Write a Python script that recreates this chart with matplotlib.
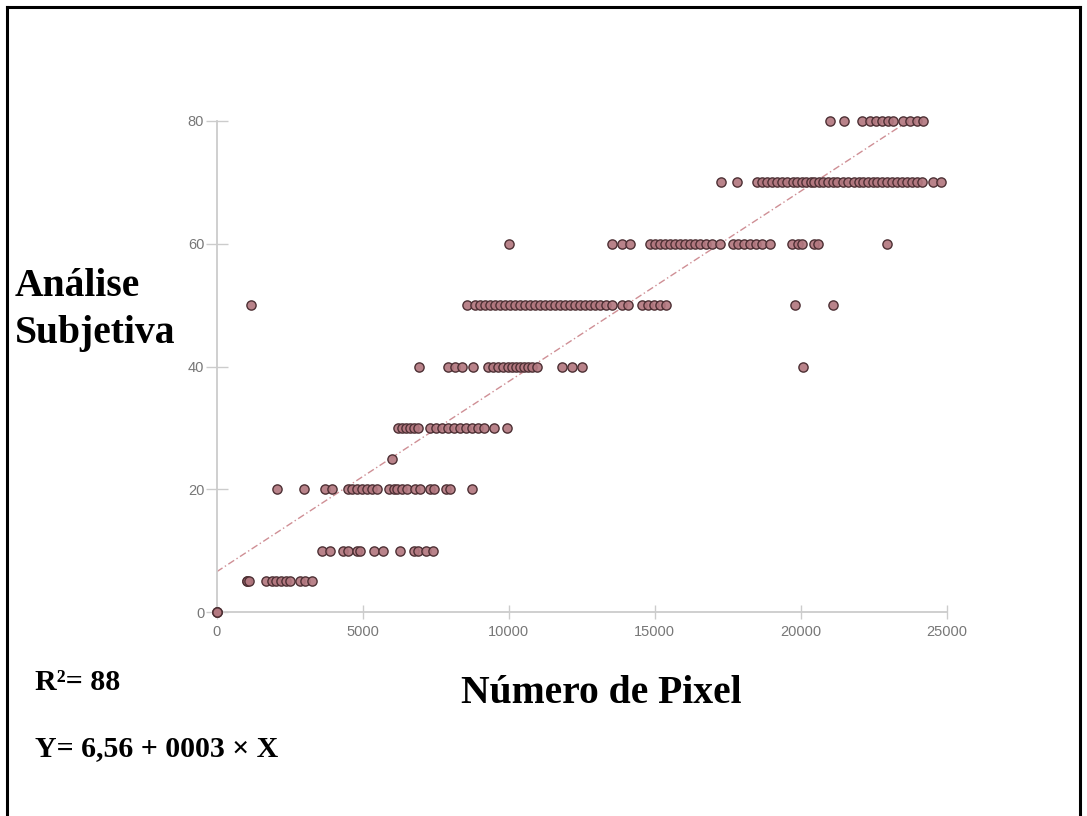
import matplotlib
matplotlib.use("Agg")
import matplotlib.pyplot as plt
from matplotlib.lines import Line2D
import numpy as np

# ---- data ----
x_score0 = [0, 0, 0]
x_score5 = [1050, 1050, 1100, 1690, 1880, 2030, 2190, 2370, 2510, 2850, 3020, 3250]
x_score10 = [3600, 3880, 4320, 4510, 4800, 4910, 5400, 5710, 6280, 6760, 6900, 7160, 7420]
x_score20 = [2080, 2990, 3710, 3940, 4490, 4650, 4820, 4970, 5140, 5310, 5480, 5900,
             6060, 6170, 6360, 6500, 6790, 6950, 7310, 7450, 7850, 7990, 8750]
x_score25 = [6010]
x_score30 = [6210, 6340, 6480, 6620, 6760, 6890, 7300, 7510, 7710, 7920, 8120, 8330,
             8540, 8740, 8950, 9150, 9490, 9940]
x_score40 = [6930, 7930, 8160, 8390, 8790, 9290, 9470, 9640, 9820, 9980, 10100, 10250,
             10390, 10530, 10670, 10800, 10960, 11820, 12160, 12500, 20090]
x_score50 = [1170, 8560, 8850, 9020, 9190, 9360, 9530, 9700, 9870, 10050, 10220, 10390,
             10560, 10730, 10900, 11070, 11240, 11420, 11590, 11760, 11930, 12100, 12270,
             12440, 12610, 12790, 12960, 13130, 13330, 13540, 13880, 14090, 14570, 14770,
             14980, 15180, 15390, 19810, 21110]
x_score60 = [10010, 13540, 13880, 14160, 14840, 15010, 15180, 15360, 15530, 15700, 15870,
             16040, 16210, 16380, 16550, 16760, 16970, 17240, 17680, 17860, 18060, 18270,
             18470, 18680, 18950, 19700, 19900, 20050, 20450, 20600, 22960]
x_score70 = [17260, 17830, 18500, 18670, 18840, 19010, 19180, 19350, 19530, 19730, 19880,
             20040, 20180, 20350, 20470, 20610, 20780, 20950, 21100, 21260, 21440, 21630,
             21830, 21980, 22150, 22320, 22470, 22630, 22780, 22950, 23120, 23290, 23460,
             23630, 23800, 23980, 24150, 24540, 24800]
x_score80 = [21010, 21490, 22100, 22380, 22580, 22790, 22990, 23160, 23510, 23750, 23990, 24190]

score_levels = [0, 5, 10, 20, 25, 30, 40, 50, 60, 70, 80]
x_by_level = [x_score0, x_score5, x_score10, x_score20, x_score25, x_score30,
              x_score40, x_score50, x_score60, x_score70, x_score80]

fit_intercept = 6.56
fit_slope = 0.0031
fit_x_range = [0, 23700]

x_ticks = [0, 5000, 10000, 15000, 20000, 25000]
y_ticks = [0, 20, 40, 60, 80]

x_label = "Número de Pixel"
y_label_lines = ["Análise", "Subjetiva"]
r2_text = "R²= 88"
eq_text = "Y= 6,56 + 0003 × X"

# ---- figure ----
W, H = 1087, 816
fig = plt.figure(figsize=(W / 100, H / 100), dpi=100)
fig.patch.set_facecolor("white")

def fx(px):
    return px / W

def fy(py):
    return 1 - py / H

ax = fig.add_axes([fx(216.7), fy(612), fx(946.7) - fx(216.7), fy(121) - fy(612)])
ax.set_xlim(0, 25000)
ax.set_ylim(0, 80)

xs = np.concatenate([np.asarray(v, dtype=float) for v in x_by_level])
ys = np.concatenate([np.full(len(v), lvl, dtype=float) for v, lvl in zip(x_by_level, score_levels)])

# regression line
fx_line = np.array(fit_x_range, dtype=float)
ax.plot(fx_line, fit_intercept + fit_slope * fx_line, color="#cf8f95", lw=1.0,
        linestyle=(0, (5, 2, 1, 2)), zorder=2)

ax.scatter(xs, ys, s=44, facecolor=(0.70, 0.47, 0.50, 0.92), edgecolor="#4d3034",
           linewidths=1.0, zorder=3, clip_on=False)

for side in ["top", "right"]:
    ax.spines[side].set_visible(False)
for side in ["left", "bottom"]:
    ax.spines[side].set_color("#cccccc")
    ax.spines[side].set_linewidth(1.3)

ax.set_xticks(x_ticks)
ax.set_yticks(y_ticks)
ax.set_xticklabels([str(t) for t in x_ticks])
ax.set_yticklabels([str(t) for t in y_ticks])
ax.tick_params(axis="y", direction="inout", length=16, width=1.0, color="#cccccc",
               labelsize=10.5, labelcolor="#777777", pad=1)
ax.tick_params(axis="x", direction="inout", length=10, width=1.0, color="#cccccc",
               labelsize=10.5, labelcolor="#777777", pad=4)
for lab in ax.get_xticklabels() + ax.get_yticklabels():
    lab.set_family("Liberation Sans")

serif = "Liberation Serif"
fig.text(fx(15), fy(296), y_label_lines[0], family=serif, weight="bold", fontsize=28.5,
         ha="left", va="baseline", color="black")
fig.text(fx(15), fy(343), y_label_lines[1], family=serif, weight="bold", fontsize=28.5,
         ha="left", va="baseline", color="black")
fig.text(fx(601), fy(703), x_label, family=serif, weight="bold", fontsize=28.5,
         ha="center", va="baseline", color="black")
fig.text(fx(35), fy(690), r2_text, family=serif, weight="bold", fontsize=21.5,
         ha="left", va="baseline", color="black")
fig.text(fx(35), fy(756), eq_text, family=serif, weight="bold", fontsize=21.5,
         ha="left", va="baseline", color="black")

# outer frame
frame_kw = dict(color="black", lw=2.2, transform=fig.transFigure, figure=fig)
fig.add_artist(Line2D([fx(7), fx(7)], [0, fy(7)], **frame_kw))
fig.add_artist(Line2D([fx(7), fx(1080)], [fy(7), fy(7)], **frame_kw))
fig.add_artist(Line2D([fx(1080), fx(1080)], [0, fy(7)], **frame_kw))

fig.savefig("out.png", dpi=100, facecolor="white")
